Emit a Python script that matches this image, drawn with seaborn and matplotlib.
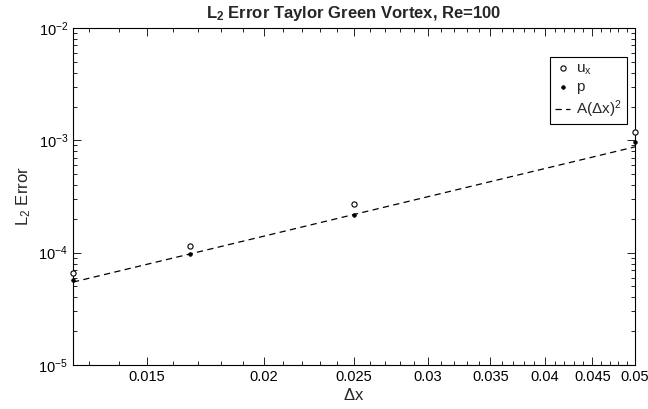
import numpy as np
import pandas as pd
import matplotlib
matplotlib.use("Agg")
import matplotlib.pyplot as plt
from matplotlib.ticker import FixedLocator, FixedFormatter, LogLocator, NullFormatter
import seaborn as sns

# Grid spacings and L2 errors of the Taylor-Green vortex runs
dx = [0.0125, 0.016667, 0.025, 0.05]
err_ux = [6.6e-5, 1.15e-4, 2.71e-4, 1.19e-3]
err_p = [5.7e-5, 9.7e-5, 2.16e-4, 9.7e-4]
# Second-order reference slope coefficient
coef_A = 0.35

x_ticks = [0.015, 0.02, 0.025, 0.03, 0.035, 0.04, 0.045, 0.05]
x_tick_labels = ["0.015", "0.02", "0.025", "0.03", "0.035", "0.04", "0.045", "0.05"]

sns.set_style("ticks")
plt.rcParams["font.family"] = ["Liberation Sans", "DejaVu Sans"]
plt.rcParams["mathtext.default"] = "regular"
plt.rcParams["mathtext.fontset"] = "custom"
plt.rcParams["mathtext.rm"] = "Liberation Sans"

df = pd.DataFrame({"dx": dx, "ux": err_ux, "p": err_p})
df["fit"] = coef_A * df["dx"] ** 2

fig = plt.figure(figsize=(6.48, 4.09), dpi=100)
ax = fig.add_axes([73 / 648, 44 / 409, (635 - 73) / 648, (365 - 28) / 409])

sns.scatterplot(data=df, x="dx", y="ux", ax=ax, marker="o", s=14,
                facecolor="white", edgecolor="black", linewidth=0.8,
                label=r"$u_x$", zorder=3, clip_on=False)
sns.scatterplot(data=df, x="dx", y="p", ax=ax, marker="o", s=7,
                color="black", edgecolor="black", linewidth=0.5,
                label="p", zorder=3, clip_on=False)
sns.lineplot(data=df, x="dx", y="fit", ax=ax, color="black", linestyle=(0, (5, 3.5)),
             linewidth=0.9, label=r"A($\Delta$x)$^2$")

ax.set_xscale("log")
ax.set_yscale("log")
ax.set_xlim(0.0125, 0.05)
ax.set_ylim(1e-5, 1e-2)

ax.xaxis.set_major_locator(FixedLocator(x_ticks))
ax.xaxis.set_major_formatter(FixedFormatter(x_tick_labels))
ax.xaxis.set_minor_locator(FixedLocator([0.001 * k for k in range(13, 50)]))
ax.xaxis.set_minor_formatter(NullFormatter())
ax.yaxis.set_major_locator(LogLocator(base=10, numticks=10))
ax.yaxis.set_minor_locator(LogLocator(base=10, subs=np.arange(2, 10), numticks=10))
ax.yaxis.set_minor_formatter(NullFormatter())

ax.tick_params(which="both", direction="in", top=True, right=True, colors="black",
               labelsize=10.5, width=0.6)
ax.tick_params(which="major", length=6)
ax.tick_params(which="minor", length=3)
for sp in ax.spines.values():
    sp.set_linewidth(0.8)
    sp.set_color("black")

ax.set_xlabel(r"$\Delta$x", fontsize=12, labelpad=2)
ax.set_ylabel(r"L$_2$ Error", fontsize=12, labelpad=4)
ax.set_title(r"L$_2$ Error Taylor Green Vortex, Re=100", fontsize=12, fontweight="bold", pad=7)

leg = ax.legend(loc="upper right", bbox_to_anchor=(0.985, 0.915), fontsize=11,
                frameon=True, fancybox=False, edgecolor="black", framealpha=1,
                handlelength=1.0, handletextpad=0.4, borderpad=0.3, labelspacing=0.25,
                borderaxespad=0.0)
leg.get_frame().set_linewidth(0.8)

fig.savefig("out.png", dpi=100)
